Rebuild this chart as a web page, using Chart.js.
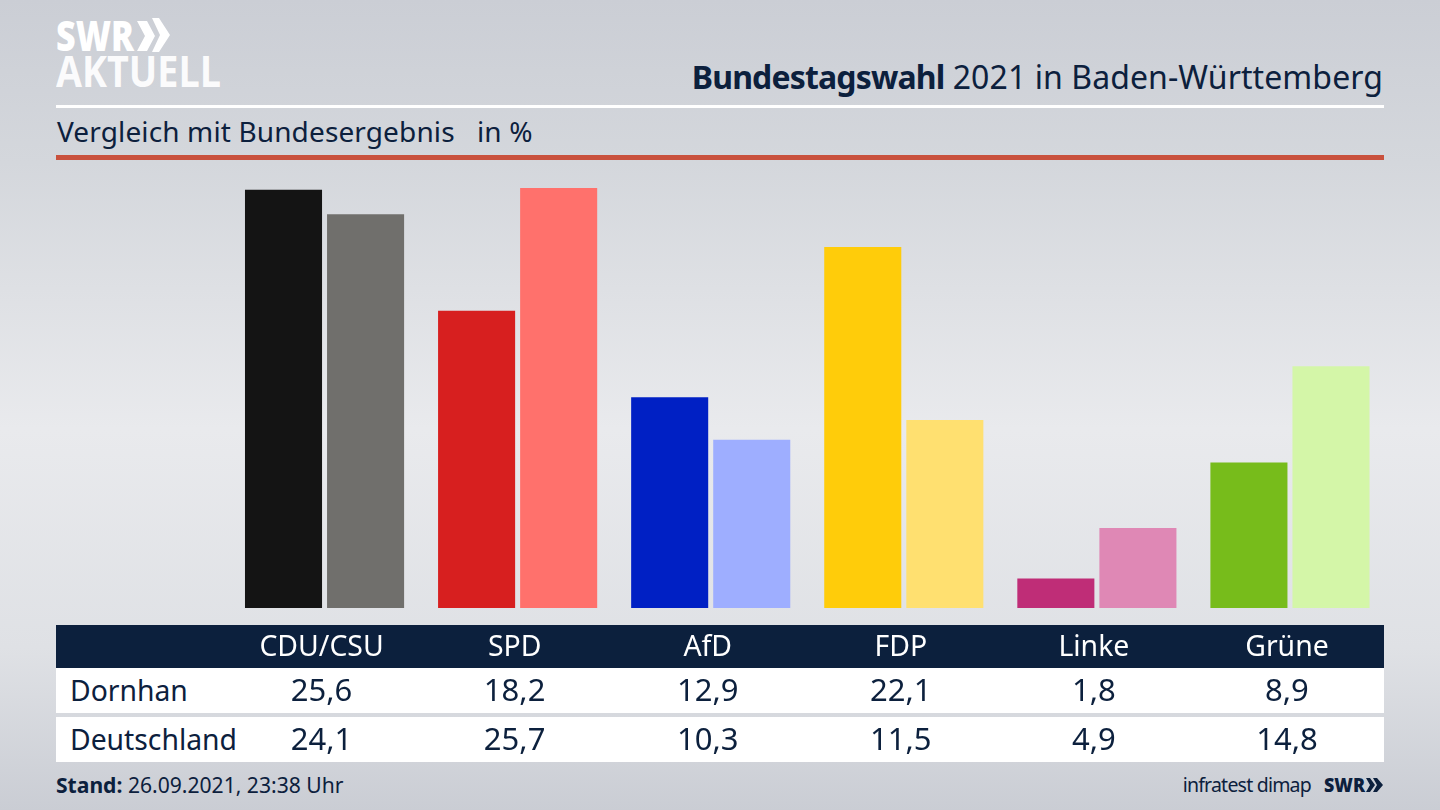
<!DOCTYPE html>
<html><head><meta charset="utf-8">
<script src="https://cdn.jsdelivr.net/npm/chart.js@4"></script>
<style>
html,body{margin:0;padding:0;width:1440px;height:810px;overflow:hidden}
body{position:relative;background:linear-gradient(180deg,#cbced5 0%,#d4d7dc 20%,#e9eaed 53%,#dfe1e5 80%,#cacdd4 100%);font-family:"Noto Sans",sans-serif;color:#0c203d}
.a{position:absolute;white-space:nowrap}
#c{position:absolute;left:0;top:0;width:1440px;height:810px}
</style></head><body>
<svg class="a" style="left:0;top:0" width="300" height="100">
  <g fill="#fff" font-family="'Open Sans'" font-weight="800">
    <text x="56" y="51" font-size="43" textLength="78" lengthAdjust="spacingAndGlyphs">SWR</text>
    <text x="56" y="87" font-size="43" font-weight="700" textLength="165" lengthAdjust="spacingAndGlyphs" opacity=".93">AKTUELL</text>
    <polygon points="137,21 147,21 155,36 147,51 137,51 145,36"/>
    <polygon points="152,18 159,18 170,35 159,52 152,52 160,35"/>
  </g>
</svg>
<div class="a" style="left:56px;top:105px;width:1328px;height:3px;background:#fff"></div>
<div class="a" style="left:56px;top:155px;width:1328px;height:5px;background:#c9513d"></div>
<div class="a" id="title" style="right:57px;top:54px;font-size:32px;line-height:46px"><b style="letter-spacing:-.85px">Bundestagswahl</b> <span style="letter-spacing:.08px">2021 in Baden-Württemberg</span></div>
<div class="a" id="sub" style="left:57px;top:111px;font-size:28px;line-height:40px;letter-spacing:.13px">Vergleich mit Bundesergebnis&nbsp;&nbsp; in %</div>
<div class="a" style="left:56px;top:625px;width:1328px;height:43px;background:#0c203d"></div>
<div class="a" style="left:56px;top:668px;width:1328px;height:45px;background:#fff"></div>
<div class="a" style="left:56px;top:717px;width:1328px;height:45px;background:#fff"></div>
<div class="a" id="r1" style="left:70px;top:670px;font-size:28.3px;line-height:40px"></div>
<div class="a" id="r2" style="left:70px;top:719px;font-size:28.3px;line-height:40px"></div>
<div class="a" style="left:56px;top:770px;font-size:21.1px;line-height:30px"><b>Stand:</b> 26.09.2021, 23:38 Uhr</div>
<div class="a" style="right:129px;top:770px;font-size:19.5px;line-height:30px;letter-spacing:-.78px">infratest dimap</div>
<svg class="a" style="left:1320px;top:770px" width="70" height="30">
  <g fill="#0c203d" font-family="'Open Sans'" font-weight="800">
    <text x="4" y="22" font-size="20" textLength="41" lengthAdjust="spacingAndGlyphs">SWR</text>
    <polygon points="46,8 50,8 55,15 50,22 46,22 50,15"/>
    <polygon points="53,8 57,8 63,15 57,22 53,22 57,15"/>
  </g>
</svg>
<canvas id="c" width="1440" height="810"></canvas>
<script>
const categories=["CDU/CSU","SPD","AfD","FDP","Linke","Grüne"];
const regionName="Dornhan";
const nationName="Deutschland";
const regionValues=[25.6,18.2,12.9,22.1,1.8,8.9];
const nationValues=[24.1,25.7,10.3,11.5,4.9,14.8];
const regionColors=["#141414","#d71f1f","#0020c4","#ffcc0a","#bf2d77","#77bc1b"];
const nationColors=["#706f6c","#ff716c","#9eaeff","#ffe070","#df88b5","#d4f6a8"];
const fmt=v=>v.toFixed(1).replace(".",",");
document.getElementById("r1").textContent=regionName;
document.getElementById("r2").textContent=nationName;
const rowText={id:"rowText",afterDraw(ch){
  const c=ch.ctx,x=ch.scales.x;
  c.save();c.fillStyle="#0c203d";c.font='31px "Noto Sans"';c.textAlign="center";c.textBaseline="middle";
  categories.forEach((_,i)=>{
    const px=x.getPixelForValue(i)-3;
    c.fillText(fmt(regionValues[i]),px,692);
    c.fillText(fmt(nationValues[i]),px,741);
  });
  c.restore();
}};
Chart.defaults.font.family='"Noto Sans"';
new Chart(document.getElementById("c"),{
  type:"bar",
  data:{labels:categories,datasets:[
    {label:regionName,data:regionValues,backgroundColor:regionColors,categoryPercentage:.85,barPercentage:.939},
    {label:nationName,data:nationValues,backgroundColor:nationColors,categoryPercentage:.85,barPercentage:.939}
  ]},
  options:{
    responsive:false,animation:false,devicePixelRatio:1,
    layout:{padding:{left:228,right:53.5,top:183.2,bottom:0}},
    plugins:{legend:{display:false},tooltip:{enabled:false},title:{display:false}},
    scales:{
      x:{
        afterFit(s){s.height=202},
        grid:{display:false,drawTicks:false},border:{display:false},
        ticks:{color:"#fff",font:{size:28.4},padding:23,labelOffset:-3,maxRotation:0,autoSkip:false}
      },
      y:{display:false,min:0,max:26}
    }
  },
  plugins:[rowText]
});
</script>
</body></html>
